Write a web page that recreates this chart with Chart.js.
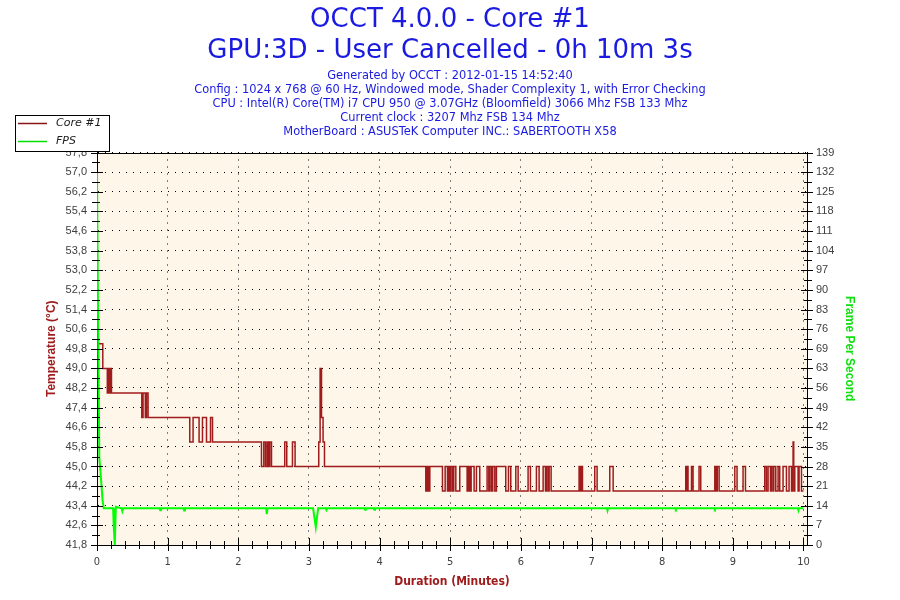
<!DOCTYPE html>
<html>
<head>
    <title>OCCT 4.0.0 - Core #1</title>
    <meta charset="utf-8">
    <script src="https://cdn.jsdelivr.net/npm/chart.js@4.4.0/dist/chart.umd.min.js"></script>
    <style>
        body {
            margin: 0;
            background: #ffffff;
        }
        #wrap {
            width: 900px;
            height: 600px;
        }
    </style>
</head>
<body>
    <div id="wrap"><canvas id="occt-chart" width="900" height="600"></canvas></div>

    <script>
        // Textos
        const titleLines = ['OCCT 4.0.0 - Core #1', 'GPU:3D - User Cancelled - 0h 10m 3s'];
        const infoLines = [
            'Generated by OCCT : 2012-01-15 14:52:40',
            'Config : 1024 x 768 @ 60 Hz, Windowed mode, Shader Complexity 1, with Error Checking',
            'CPU : Intel(R) Core(TM) i7 CPU 950 @ 3.07GHz (Bloomfield) 3066 Mhz FSB 133 Mhz',
            'Current clock : 3207 Mhz FSB 134 Mhz',
            'MotherBoard : ASUSTeK Computer INC.: SABERTOOTH X58'
        ];
        const legendLabels = ['Core #1', 'FPS'];

        // Etiquetas de los ejes
        const minuteTicks = ['0', '1', '2', '3', '4', '5', '6', '7', '8', '9', '10'];
        const tempTicks = ['41,8', '42,6', '43,4', '44,2', '45,0', '45,8', '46,6', '47,4', '48,2', '49,0', '49,8',
                           '50,6', '51,4', '52,2', '53,0', '53,8', '54,6', '55,4', '56,2', '57,0', '57,8'];
        const fpsTicks = ['0', '7', '14', '21', '28', '35', '42', '49', '56', '63', '69',
                          '76', '83', '90', '97', '104', '111', '118', '125', '132', '139'];

        // Core #1 (minutos, grados) - cada valor se mantiene hasta el siguiente minuto
        const coreMinutes = [
            0.03, 0.082, 0.146, 0.164, 0.181, 0.191, 0.205,
            0.634, 0.652, 0.684, 0.70, 0.723,
            1.313, 1.36, 1.445, 1.493, 1.55, 1.607, 1.635,
            2.328, 2.361, 2.385, 2.408, 2.427, 2.446, 2.47, 2.658, 2.686, 2.767, 2.804,
            3.139, 3.158, 3.178, 3.20, 3.22,
            4.654, 4.663, 4.673, 4.682, 4.692, 4.711,
            4.890, 4.928, 4.961, 4.975, 4.994, 5.012, 5.036, 5.050, 5.079, 5.135,
            5.239, 5.258, 5.277, 5.296, 5.338, 5.371, 5.418, 5.522,
            5.546, 5.564, 5.588, 5.602, 5.631, 5.654, 5.786, 5.824, 5.857, 5.928,
            5.961, 6.102, 6.135, 6.220, 6.258, 6.315, 6.348, 6.362, 6.385, 6.400,
            6.428, 6.824, 6.838, 6.852, 6.872, 7.046, 7.079, 7.258, 7.306,
            8.334, 8.345, 8.355, 8.366, 8.415, 8.437, 8.522, 8.546,
            8.745, 8.765, 8.78, 8.806, 9.028, 9.06, 9.145, 9.179,
            9.452, 9.476, 9.499, 9.533, 9.547, 9.57, 9.58, 9.608, 9.641, 9.664,
            9.711, 9.759, 9.796, 9.831, 9.845, 9.853, 9.862, 9.867, 9.877, 9.924,
            9.938, 9.972, 10.0
        ];
        const coreTemp = [
            50, 49, 48, 49, 48, 49, 48,
            47, 48, 47, 48, 47,
            46, 47, 46, 47, 46, 47, 46,
            45, 46, 45, 46, 45, 46, 45, 46, 45, 46, 45,
            46, 49, 47, 46, 45,
            44, 45, 44, 45, 44, 45,
            44, 45, 44, 45, 44, 45, 44, 45, 44, 45,
            44, 45, 44, 45, 44, 45, 44, 45,
            44, 45, 44, 45, 44, 45, 44, 45, 44, 45,
            44, 45, 44, 45, 44, 45, 44, 45, 44, 45,
            44, 45, 44, 45, 44, 45, 44, 45, 44,
            45, 44, 45, 44, 45, 44, 45, 44,
            45, 44, 45, 44, 45, 44, 45, 44,
            45, 44, 45, 44, 45, 44, 45, 44, 45, 44,
            45, 44, 45, 44, 45, 46, 45, 44, 45, 44,
            45, 44, 44
        ];

        // FPS (minutos, frames por segundo)
        const fpsMinutes = [
            0, 0.004, 0.018, 0.033, 0.064, 0.078, 0.096,
            0.228, 0.238, 0.252, 0.266, 0.347, 0.358, 0.369,
            0.885, 0.895, 0.905, 1.225, 1.233, 1.245,
            2.395, 2.403, 2.415, 3.059, 3.097, 3.13, 3.24, 3.248, 3.26,
            3.785, 3.795, 3.805, 3.915, 3.925, 3.935,
            7.218, 7.226, 7.235, 8.185, 8.193, 8.201, 8.737, 8.745, 8.753,
            9.921, 9.929, 9.937, 10.0
        ];
        const fpsValues = [
            132, 132, 70, 31, 21, 16, 13,
            13, 6, 0, 13.5, 13, 12, 13,
            13, 12.3, 13, 13, 12.2, 13,
            13, 10.9, 13, 13, 6.3, 13, 13, 12.4, 13,
            13, 12.5, 13, 13, 12.5, 13,
            13, 12.2, 13, 13, 12.7, 13, 13, 12.7, 13,
            13, 12.3, 13, 13
        ];

        const coreColor = '#a01c1c';
        const fpsColor = '#00ff00';
        const titleColor = '#1a1ae0';
        const tickFont = { family: "'Liberation Sans', Arial, sans-serif", size: 11 };
        const narrowFamily = "'Liberation Sans Narrow', 'DejaVu Sans Condensed', 'Liberation Sans', sans-serif";

        const corePoints = coreMinutes.map((m, i) => ({ x: m, y: coreTemp[i] }));
        const fpsPoints = fpsMinutes.map((m, i) => ({ x: m, y: fpsValues[i] }));

        // Fondo, borde superior, marcas de los ejes y leyenda
        const occtFrame = {
            id: 'occtFrame',
            beforeDraw(chart) {
                const { ctx, chartArea: a } = chart;
                ctx.save();
                ctx.fillStyle = '#fdf6e9';
                ctx.fillRect(a.left, a.top, a.right - a.left, a.bottom - a.top);
                ctx.restore();
            },
            afterDraw(chart) {
                const { ctx, chartArea: a, scales } = chart;
                const px = v => Math.round(v) + 0.5;
                ctx.save();
                ctx.strokeStyle = '#000';
                ctx.lineWidth = 1;
                ctx.beginPath();
                ctx.moveTo(a.left, px(a.top));
                ctx.lineTo(a.right, px(a.top));

                // eje X: 4 marcas menores entre minutos
                const xt = scales.x.ticks;
                xt.forEach((t, i) => {
                    const x = px(scales.x.getPixelForValue(t.value));
                    ctx.moveTo(x, a.bottom - 7);
                    ctx.lineTo(x, a.bottom + 6);
                    for (let k = 1; k < 5; k++) {
                        const v = t.value + k * 0.2;
                        if (v > scales.x.max) break;
                        const xm = px(scales.x.getPixelForValue(v));
                        ctx.moveTo(xm, a.bottom - 4);
                        ctx.lineTo(xm, a.bottom + 4);
                    }
                });

                // ejes Y: marca menor a mitad de paso
                [['y', a.left, -1], ['y2', a.right, 1]].forEach(([id, edge, dir]) => {
                    const s = scales[id];
                    s.ticks.forEach((t, i) => {
                        const y = px(s.getPixelForValue(t.value));
                        ctx.moveTo(edge - 6 * dir, y);
                        ctx.lineTo(edge + 6 * dir, y);
                        if (i < s.ticks.length - 1) {
                            const ym = px(s.getPixelForValue((t.value + s.ticks[i + 1].value) / 2));
                            ctx.moveTo(edge - 3 * dir, ym);
                            ctx.lineTo(edge + 5 * dir, ym);
                        }
                    });
                });
                ctx.stroke();

                // leyenda
                const box = { left: 15.5, top: 115.5, width: 94, height: 36 };
                ctx.fillStyle = '#ffffff';
                ctx.fillRect(box.left, box.top, box.width, box.height);
                ctx.strokeRect(box.left, box.top, box.width, box.height);
                const colors = ['#8a1414', '#00e000'];
                ctx.font = 'italic 11px "DejaVu Sans"';
                ctx.textBaseline = 'middle';
                legendLabels.forEach((label, i) => {
                    const y = 123.5 + i * 18;
                    ctx.beginPath();
                    ctx.strokeStyle = colors[i];
                    ctx.lineWidth = 1.5;
                    ctx.moveTo(18, y);
                    ctx.lineTo(47, y);
                    ctx.stroke();
                    ctx.fillStyle = '#202020';
                    ctx.fillText(label, 56, y);
                });
                ctx.restore();
            }
        };

        const ctx = document.getElementById('occt-chart').getContext('2d');
        const chart = new Chart(ctx, {
            type: 'line',
            data: {
                datasets: [{
                    label: legendLabels[0],
                    data: corePoints,
                    yAxisID: 'y',
                    borderColor: coreColor,
                    borderWidth: 1.5,
                    stepped: true,
                    pointRadius: 0,
                    fill: false
                }, {
                    label: legendLabels[1],
                    data: fpsPoints,
                    yAxisID: 'y2',
                    borderColor: fpsColor,
                    borderWidth: 2,
                    tension: 0,
                    pointRadius: 0,
                    fill: false
                }]
            },
            options: {
                responsive: false,
                animation: false,
                layout: { padding: 0 },
                plugins: {
                    legend: { display: false },
                    tooltip: { enabled: false },
                    title: {
                        display: true,
                        text: titleLines,
                        color: titleColor,
                        font: { family: 'DejaVu Sans', size: 26, weight: 'normal', lineHeight: 31 / 26 },
                        padding: { top: 4.5, bottom: 0 }
                    },
                    subtitle: {
                        display: true,
                        text: infoLines,
                        color: titleColor,
                        font: { family: 'DejaVu Sans', size: 11.4, weight: 'normal', lineHeight: 14 / 11.4 },
                        padding: { top: 2.5, bottom: 13.5 }
                    }
                },
                scales: {
                    x: {
                        type: 'linear',
                        min: 0,
                        max: 10.05,
                        ticks: {
                            stepSize: 1,
                            includeBounds: false,
                            autoSkip: false,
                            maxRotation: 0,
                            padding: 11,
                            color: '#404040',
                            font: { family: narrowFamily, size: 11 },
                            callback: (v, i) => minuteTicks[i]
                        },
                        grid: { color: '#000', lineWidth: 1, drawTicks: false },
                        border: { color: '#000', width: 1, dash: [1, 6] },
                        title: {
                            display: true,
                            text: 'Duration (Minutes)',
                            color: coreColor,
                            font: { family: narrowFamily, size: 12, weight: 'bold' },
                            padding: { top: 0, bottom: 11 }
                        },
                        afterFit: s => { s.height = 55; }
                    },
                    y: {
                        position: 'left',
                        min: 41.8,
                        max: 57.8,
                        ticks: {
                            stepSize: 0.8,
                            autoSkip: false,
                            padding: 10,
                            color: '#404040',
                            font: tickFont,
                            callback: (v, i) => tempTicks[i]
                        },
                        grid: { color: '#000', lineWidth: 1, drawTicks: false },
                        border: { color: '#000', width: 1, dash: [1, 6] },
                        title: {
                            display: true,
                            text: 'Temperature (°C)',
                            color: coreColor,
                            font: { family: "'Liberation Sans', Arial, sans-serif", size: 12, weight: 'bold' },
                            padding: { top: 44, bottom: 0 }
                        },
                        afterFit: s => { s.width = 97; }
                    },
                    y2: {
                        position: 'right',
                        min: 0,
                        max: 139,
                        ticks: {
                            stepSize: 6.95,
                            autoSkip: false,
                            padding: 9,
                            color: '#404040',
                            font: tickFont,
                            callback: (v, i) => fpsTicks[i]
                        },
                        grid: { drawOnChartArea: false, drawTicks: false },
                        border: { color: '#000', width: 1 },
                        title: {
                            display: true,
                            text: 'Frame Per Second',
                            color: '#10e010',
                            font: { family: "'Liberation Sans', Arial, sans-serif", size: 12, weight: 'bold' },
                            padding: { top: 43, bottom: 0 }
                        },
                        afterFit: s => { s.width = 93; }
                    }
                }
            },
            plugins: [occtFrame]
        });
    </script>
</body>
</html>
